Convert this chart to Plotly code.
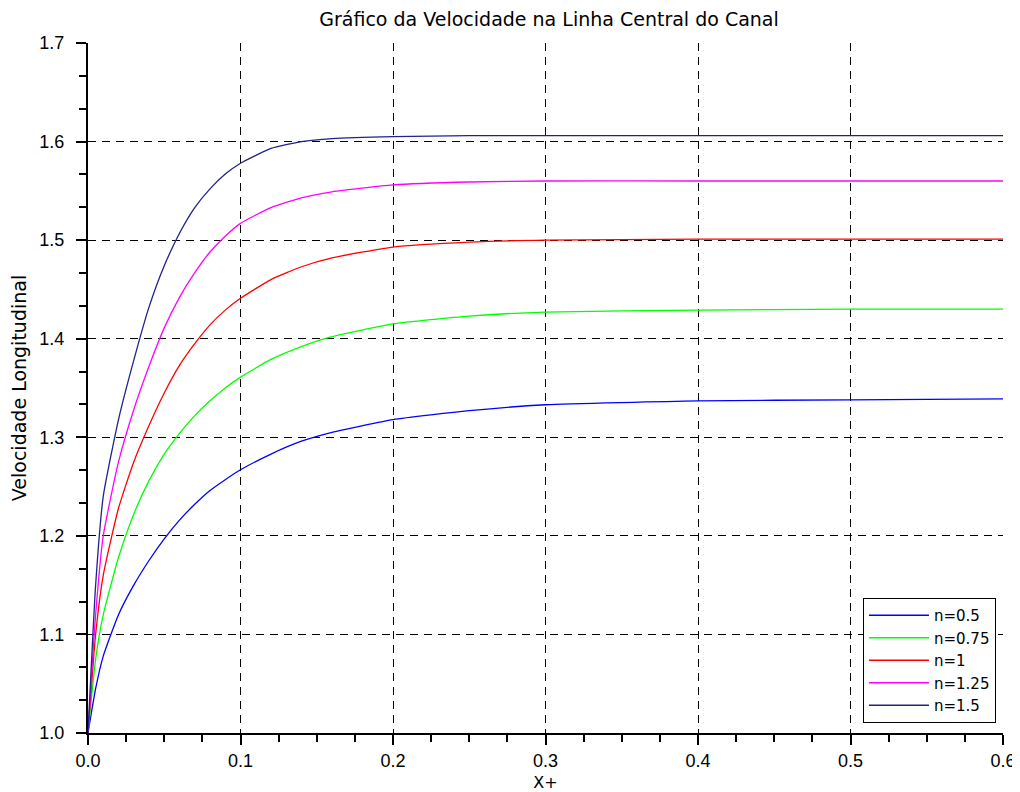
import plotly.graph_objects as go

x_plus = [0, 0.005, 0.01, 0.02, 0.03, 0.04, 0.05, 0.06, 0.07, 0.08, 0.09, 0.1,
          0.12, 0.14, 0.16, 0.2, 0.25, 0.3, 0.4, 0.5, 0.6]

v_n050 = [1.0, 1.045, 1.078, 1.12, 1.150, 1.175, 1.197, 1.216, 1.232, 1.246, 1.257, 1.267,
          1.283, 1.296, 1.305, 1.318, 1.327, 1.333, 1.337, 1.338, 1.339]
v_n075 = [1.0, 1.075, 1.12, 1.178, 1.222, 1.256, 1.283, 1.304, 1.322, 1.337, 1.35, 1.361,
          1.379, 1.392, 1.402, 1.415, 1.423, 1.427, 1.429, 1.43, 1.43]
v_n100 = [1.0, 1.10, 1.16, 1.228, 1.275, 1.312, 1.345, 1.373, 1.395, 1.414, 1.429, 1.441,
          1.46, 1.473, 1.482, 1.493, 1.498, 1.5, 1.501, 1.501, 1.501]
v_n125 = [1.0, 1.12, 1.2, 1.275, 1.328, 1.372, 1.411, 1.442, 1.467, 1.488, 1.504, 1.517,
          1.533, 1.543, 1.549, 1.556, 1.559, 1.56, 1.56, 1.56, 1.56]
v_n150 = [1.0, 1.15, 1.24, 1.318, 1.378, 1.432, 1.474, 1.507, 1.533, 1.552, 1.567, 1.578,
          1.593, 1.6, 1.603, 1.605, 1.606, 1.606, 1.606, 1.606, 1.606]

series_names = ["n=0.5", "n=0.75", "n=1", "n=1.25", "n=1.5"]
series_values = [v_n050, v_n075, v_n100, v_n125, v_n150]
series_colors = ["#0000ff", "#00ff00", "#ff0000", "#ff00ff", "#22228c"]

x_ticks = [0.0, 0.1, 0.2, 0.3, 0.4, 0.5, 0.6]
y_ticks = [1.0, 1.1, 1.2, 1.3, 1.4, 1.5, 1.6, 1.7]

title_text = "Gráfico da Velocidade na Linha Central do Canal"
x_title = "X+"
y_title = "Velocidade Longitudinal"

fig = go.Figure()
for name, vals, col in zip(series_names, series_values, series_colors):
    fig.add_trace(go.Scatter(
        x=x_plus, y=vals, mode="lines", name=name,
        line=dict(color=col, width=1.3, shape="spline", smoothing=0.5),
    ))

tick_font = dict(family="Liberation Sans, Arial, sans-serif", size=18, color="black")
wide_font = "DejaVu Sans, sans-serif"

axis_common = dict(
    showgrid=True, gridcolor="black", gridwidth=1, griddash="8px,6px",
    showline=True, linecolor="black", linewidth=2,
    ticks="outside", ticklen=10, tickwidth=1.5, tickcolor="black",
    zeroline=False, mirror=False, automargin=False,
    tickfont=tick_font,
)

fig.update_xaxes(
    range=[0, 0.6], tickvals=x_ticks, ticktext=[f"{v:.1f}" for v in x_ticks],
    minor=dict(dtick=0.025, ticks="outside", ticklen=7, tickwidth=1.5, tickcolor="black", showgrid=False),
    ticklabelstandoff=0,
    title=dict(text=x_title, font=dict(family=wide_font, size=16, color="black"), standoff=7),
    **axis_common,
)
fig.update_yaxes(
    range=[1.0, 1.7], tickvals=y_ticks, ticktext=[f"{v:.1f}" for v in y_ticks],
    minor=dict(dtick=0.1 / 3, tick0=1.0, ticks="outside", ticklen=7, tickwidth=1.5, tickcolor="black", showgrid=False),
    ticklabelstandoff=8,
    title=dict(text=y_title, font=dict(family=wide_font, size=19, color="black"), standoff=12),
    **axis_common,
)

fig.update_layout(
    width=1012, height=784, autosize=False,
    margin=dict(l=80, r=17, t=35, b=59),
    paper_bgcolor="white", plot_bgcolor="white",
    title=dict(text=title_text, x=0.5346, xanchor="center", y=0.985, yanchor="middle",
               font=dict(family=wide_font, size=19, color="black")),
    legend=dict(
        x=0.9923, xanchor="right", y=0.0145, yanchor="bottom",
        bgcolor="white", bordercolor="black", borderwidth=1,
        font=dict(family=wide_font, size=15, color="black"),
        tracegroupgap=0, itemwidth=60,
    ),
    showlegend=True,
)

fig.write_html("out.html")
